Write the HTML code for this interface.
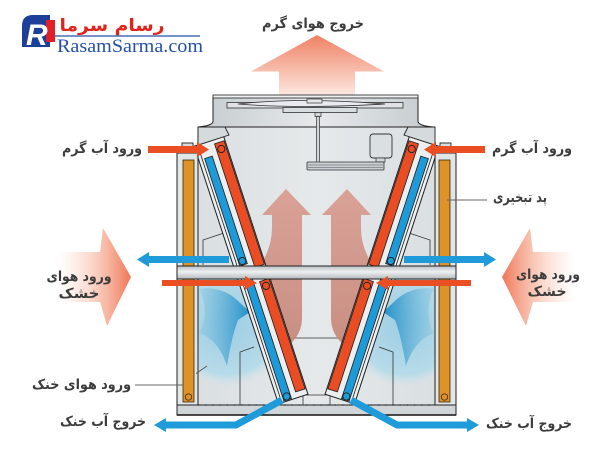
<!DOCTYPE html>
<html><head><meta charset="utf-8">
<style>
html,body{margin:0;padding:0;background:#fff;}
svg{display:block;}
.fa{font-family:"DejaVu Sans","Liberation Sans",sans-serif;font-weight:bold;fill:#3c3c3c;font-size:14px;}
.en{font-family:"Liberation Serif",serif;}
</style></head>
<body>
<svg width="600" height="453" viewBox="0 0 600 453" xmlns="http://www.w3.org/2000/svg" xmlns:xlink="http://www.w3.org/1999/xlink">
<defs>
 <linearGradient id="gTop" x1="0" y1="35" x2="0" y2="96" gradientUnits="userSpaceOnUse">
  <stop offset="0" stop-color="#ef8163"/>
  <stop offset="1" stop-color="#fde9e2"/>
 </linearGradient>
 <linearGradient id="gSide" x1="58" y1="0" x2="131" y2="0" gradientUnits="userSpaceOnUse">
  <stop offset="0" stop-color="#fbd9cc" stop-opacity="0"/>
  <stop offset="0.45" stop-color="#f8c2ae" stop-opacity="0.65"/>
  <stop offset="1" stop-color="#f07656"/>
 </linearGradient>
 <linearGradient id="gBody" x1="177" y1="0" x2="456" y2="0" gradientUnits="userSpaceOnUse">
  <stop offset="0" stop-color="#d8dde0"/>
  <stop offset="0.5" stop-color="#e5e9ea"/>
  <stop offset="1" stop-color="#d8dde0"/>
 </linearGradient>
 <linearGradient id="gBeam" x1="0" y1="266" x2="0" y2="279" gradientUnits="userSpaceOnUse">
  <stop offset="0" stop-color="#b9bfc2"/>
  <stop offset="0.45" stop-color="#eef0f1"/>
  <stop offset="1" stop-color="#b3b9bc"/>
 </linearGradient>
 <linearGradient id="gPink" x1="0" y1="189" x2="0" y2="344" gradientUnits="userSpaceOnUse">
  <stop offset="0" stop-color="#d99c90"/>
  <stop offset="1" stop-color="#c7877a"/>
 </linearGradient>
 <radialGradient id="gGlow" cx="228" cy="325" r="62" gradientUnits="userSpaceOnUse">
  <stop offset="0" stop-color="#9dcde3"/>
  <stop offset="0.8" stop-color="#b7dbe9"/>
  <stop offset="1" stop-color="#cfe3ea" stop-opacity="0"/>
 </radialGradient>
 <linearGradient id="gSwirl" x1="199" y1="0" x2="250" y2="0" gradientUnits="userSpaceOnUse">
  <stop offset="0" stop-color="#7fc1df" stop-opacity="0.35"/>
  <stop offset="1" stop-color="#1f8fc8"/>
 </linearGradient>
 <linearGradient id="gHousing" x1="213" y1="0" x2="418" y2="0" gradientUnits="userSpaceOnUse">
  <stop offset="0" stop-color="#c9cfd2"/>
  <stop offset="0.5" stop-color="#e6e9ea"/>
  <stop offset="1" stop-color="#c9cfd2"/>
 </linearGradient>
 <clipPath id="cpLow"><rect x="198" y="279" width="119" height="126"/></clipPath>

 <!-- left half, back layer -->
 <g id="backHalf">
  <circle cx="228" cy="325" r="62" fill="url(#gGlow)" clip-path="url(#cpLow)"/>
  <path d="M199,289 C214,286 230,292 239,302 L250,312 L238,320 C233,333 230,348 227,366 C222,350 213,338 199,333 C206,322 207,304 199,289 Z" fill="url(#gSwirl)"/>
  <polyline points="203,265 203,240 224,233" fill="none" stroke="#333" stroke-width="0.8"/>
  <polyline points="240,405 240,352 254,347" fill="none" stroke="#333" stroke-width="0.8"/>
  <line x1="288" y1="338" x2="316.5" y2="338" stroke="#333" stroke-width="0.8"/>
  <polyline points="296,391 303,395 316.5,395" fill="none" stroke="#333" stroke-width="0.8"/>
  <line x1="303" y1="395" x2="303" y2="405" stroke="#333" stroke-width="0.8"/>
  <path d="M286,189 L311,215 L302,215 L302,318 Q302,334 289,345 L262,262 Q272,246 272,228 L272,215 L262,215 Z" fill="url(#gPink)" opacity="0.92"/>
  <g transform="translate(242.3,261) rotate(-18.1)">
   <rect x="-10" y="-124" width="31" height="271" fill="#eceff0" stroke="#1e1e1e" stroke-width="1"/>
   <line x1="-6.5" y1="-121" x2="-6.5" y2="146" stroke="#1e1e1e" stroke-width="0.8"/>
   <rect x="-4" y="-109" width="8" height="113" fill="#1f9ad8" stroke="#1e1e1e" stroke-width="0.8"/>
   <rect x="-4" y="19" width="8" height="127" fill="#1f9ad8" stroke="#1e1e1e" stroke-width="0.8"/>
   <rect x="10" y="-120" width="10" height="130" fill="#ea4d24" stroke="#1e1e1e" stroke-width="0.8"/>
   <rect x="10" y="25" width="10" height="116" fill="#ea4d24" stroke="#1e1e1e" stroke-width="0.8"/>
   <circle cx="0" cy="0" r="3.6" fill="#1f9ad8" stroke="#1e1e1e" stroke-width="0.9"/>
   <circle cx="0" cy="142.5" r="3.6" fill="#1f9ad8" stroke="#1e1e1e" stroke-width="0.9"/>
   <circle cx="14.8" cy="-113" r="3.6" fill="#ea4d24" stroke="#1e1e1e" stroke-width="0.9"/>
   <circle cx="14.8" cy="31" r="3.6" fill="#ea4d24" stroke="#1e1e1e" stroke-width="0.9"/>
  </g>
  <polygon points="198,127 225,127 229,135 198,145" fill="#d5dadc" stroke="#222" stroke-width="0.9"/>
 </g>

 <!-- left half, panel layer -->
 <g id="panelHalf">
  <rect x="182" y="143" width="11" height="10" fill="#d8dcde" stroke="#222" stroke-width="0.9"/>
  <rect x="177" y="153" width="21" height="253" fill="#e2e6e7" stroke="#222" stroke-width="1"/>
  <rect x="183" y="160" width="11" height="242" fill="#de9328" stroke="#3a2a10" stroke-width="0.8"/>
  <circle cx="188.5" cy="397" r="3.2" fill="none" stroke="#4a3010" stroke-width="0.9"/>
  <rect x="230" y="115" width="6" height="8" rx="1.5" fill="#e4e7e8" stroke="#333" stroke-width="0.8"/>
  <circle cx="233" cy="119.5" r="1.5" fill="none" stroke="#333" stroke-width="0.7"/>
 </g>

 <!-- left half, arrows -->
 <g id="arrowHalf">
  <polygon points="60,252 100,252 103,228 131,277 107,326 100,302 60,302" fill="url(#gSide)"/>
  <rect x="148" y="146" width="51" height="7" fill="#ea4f23"/>
  <polygon points="197,142 209,149.5 197,157" fill="#ea4f23"/>
  <rect x="148" y="256" width="81" height="7" fill="#1e9bd8"/>
  <polygon points="137,259.5 149,252 149,267" fill="#1e9bd8"/>
  <rect x="162" y="280" width="84" height="6" fill="#ea4f23"/>
  <polygon points="245,276 257,283 245,290" fill="#ea4f23"/>
  <polyline points="282,400 236,425 164,425" fill="none" stroke="#1e9bd8" stroke-width="7" stroke-linejoin="miter"/>
  <polygon points="154,425 166,418 166,432" fill="#1e9bd8"/>
 </g>
</defs>

<!-- top big arrow -->
<polygon points="317,35 384,71.5 355,71.5 355,97 279,97 279,71.5 251,71.5" fill="url(#gTop)"/>

<!-- body -->
<path d="M198,127 H433 V153 H456 V415 H177 V153 H198 Z" fill="url(#gBody)" stroke="#222" stroke-width="1"/>

<use xlink:href="#backHalf"/>
<use xlink:href="#backHalf" transform="matrix(-1 0 0 1 633 0)"/>

<use xlink:href="#panelHalf"/>
<use xlink:href="#panelHalf" transform="matrix(-1 0 0 1 633 0)"/>

<!-- beam -->
<rect x="177" y="266" width="279" height="13" fill="url(#gBeam)" stroke="#222" stroke-width="1"/>
<!-- base -->
<rect x="177" y="405" width="279" height="10" fill="#d0d5d7" stroke="#222" stroke-width="1"/>
<line x1="177" y1="415" x2="456" y2="415" stroke="#111" stroke-width="1.6"/>
<line x1="198" y1="405" x2="435" y2="405" stroke="#222" stroke-width="1.2" stroke-dasharray="1.2 6"/>

<!-- housing -->
<path d="M213,97 L418,97 L418,122 Q420,126 433,127 L198,127 Q211,126 213,122 Z" fill="url(#gHousing)" stroke="#222" stroke-width="1"/>
<rect x="213" y="95" width="205" height="3" fill="#eef0f1" stroke="#222" stroke-width="0.8"/>
<rect x="227" y="102.5" width="176" height="5.5" fill="#dfe3e5" stroke="#333" stroke-width="0.8"/>
<path d="M238,104 Q300,97 385,104 Q300,109 238,104 Z" fill="#e9ecee" stroke="#333" stroke-width="0.8"/>
<rect x="283" y="107.5" width="74" height="5" fill="#d7dcde" stroke="#333" stroke-width="0.8"/>
<rect x="307" y="99" width="15" height="4" fill="#e5e8e9" stroke="#333" stroke-width="0.7"/>
<rect x="315" y="112.5" width="6" height="4" fill="#d0d5d7" stroke="#333" stroke-width="0.7"/>
<rect x="316.5" y="116.5" width="3" height="46" fill="#cfd4d6" stroke="#333" stroke-width="0.7"/>
<rect x="370" y="134" width="22" height="24" rx="3" fill="#dadfe1" stroke="#333" stroke-width="0.9"/>
<rect x="376" y="158" width="9" height="4" fill="#cfd4d6" stroke="#333" stroke-width="0.7"/>
<rect x="307" y="162" width="77" height="8" rx="1" fill="#c9cfd2" stroke="#333" stroke-width="0.8"/>
<line x1="308" y1="165" x2="383" y2="165" stroke="#555" stroke-width="0.6"/>
<line x1="308" y1="167.5" x2="383" y2="167.5" stroke="#555" stroke-width="0.6"/>

<!-- arrows -->
<use xlink:href="#arrowHalf"/>
<use xlink:href="#arrowHalf" transform="matrix(-1 0 0 1 633 0)"/>

<!-- leader lines -->
<line x1="135" y1="385" x2="183" y2="385" stroke="#666" stroke-width="1"/>
<line x1="196" y1="373.5" x2="207" y2="366" stroke="#555" stroke-width="0.9"/>
<line x1="447" y1="200" x2="487" y2="200" stroke="#666" stroke-width="1"/>

<!-- labels -->
<text class="fa" x="313" y="28" text-anchor="middle" textLength="102" lengthAdjust="spacingAndGlyphs">خروج هوای گرم</text>
<text class="fa" x="102" y="153" text-anchor="middle" textLength="80" lengthAdjust="spacingAndGlyphs">ورود آب گرم</text>
<text class="fa" x="532" y="153" text-anchor="middle" textLength="80" lengthAdjust="spacingAndGlyphs">ورود آب گرم</text>
<text class="fa" x="520" y="202" text-anchor="middle" textLength="54" lengthAdjust="spacingAndGlyphs">پد تبخیری</text>
<text class="fa" x="79" y="281" text-anchor="middle" textLength="65" lengthAdjust="spacingAndGlyphs">ورود هوای</text>
<text class="fa" x="79" y="298" text-anchor="middle" textLength="41" lengthAdjust="spacingAndGlyphs">خشک</text>
<text class="fa" x="548" y="279" text-anchor="middle" textLength="64" lengthAdjust="spacingAndGlyphs">ورود هوای</text>
<text class="fa" x="547" y="296" text-anchor="middle" textLength="39" lengthAdjust="spacingAndGlyphs">خشک</text>
<text class="fa" x="81.5" y="389" text-anchor="middle" textLength="99" lengthAdjust="spacingAndGlyphs">ورود هوای خنک</text>
<text class="fa" x="103" y="426" text-anchor="middle" textLength="86" lengthAdjust="spacingAndGlyphs">خروج آب خنک</text>
<text class="fa" x="529" y="428" text-anchor="middle" textLength="86" lengthAdjust="spacingAndGlyphs">خروج آب خنک</text>

<!-- logo -->
<path d="M22,47 V26 Q22,15 33,15 H50 V47 Z" fill="#1d3f9a"/>
<rect x="46" y="20" width="9" height="22" fill="#e11f26"/>
<text x="26" y="45" style="font-family:'Liberation Sans',sans-serif;font-weight:bold;font-style:italic;font-size:30px;fill:#fff;">R</text>
<text x="112" y="31" text-anchor="middle" textLength="105" lengthAdjust="spacingAndGlyphs" style="font-family:'DejaVu Sans',sans-serif;font-weight:bold;font-size:17px;fill:#e2231a;">رسام سرما</text>
<line x1="55" y1="36" x2="200" y2="36" stroke="#2450a8" stroke-width="1.2"/>
<text class="en" x="57" y="52" textLength="146" lengthAdjust="spacingAndGlyphs" style="font-size:19px;fill:#2450a8;">RasamSarma.com</text>
</svg>
</body></html>
